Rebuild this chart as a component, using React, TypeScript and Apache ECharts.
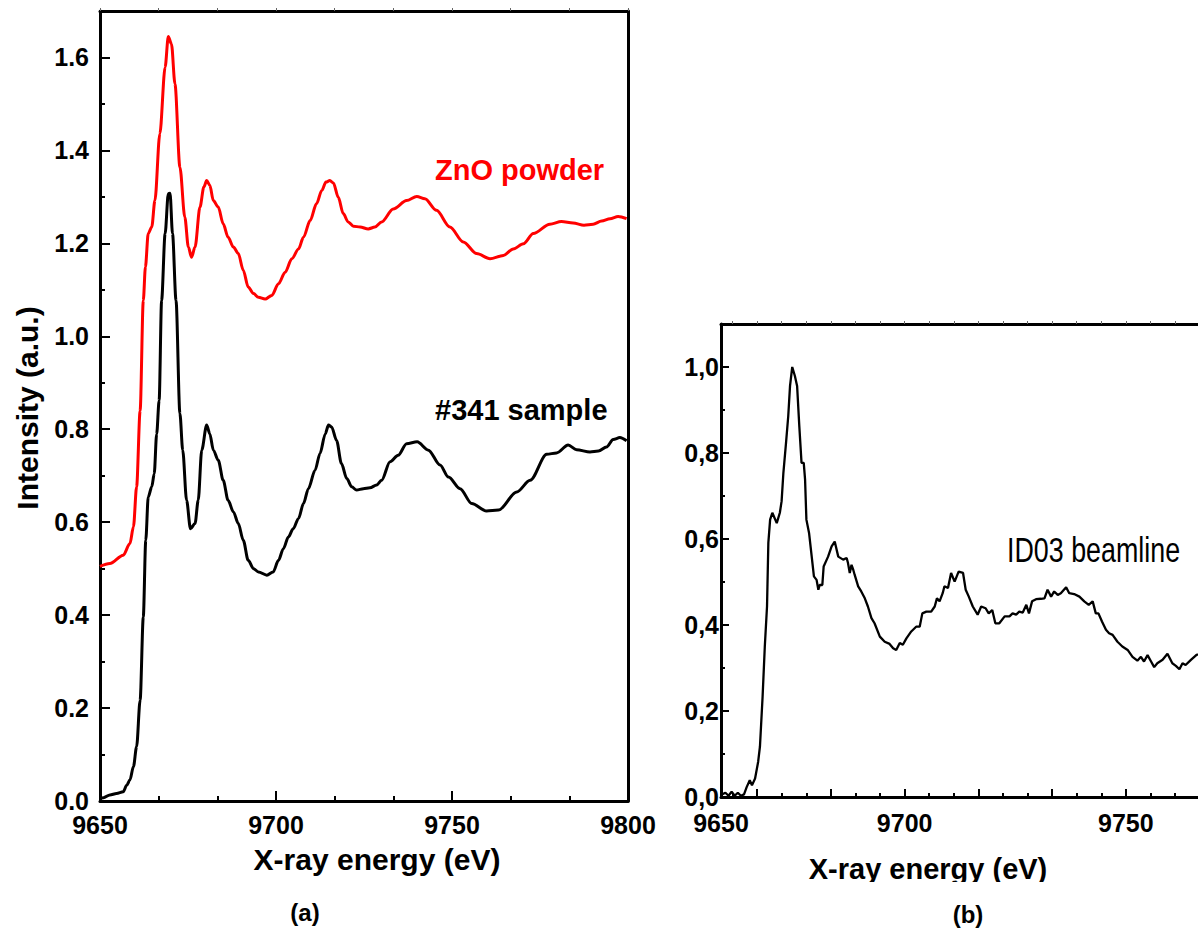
import React, { useEffect, useRef } from "react";
import * as echarts from "echarts";

// ---------- data ----------
const znoEnergy = [
  9650, 9652.8, 9656.6, 9658.5, 9659.5, 9660.4, 9661.4, 9662.3, 9662.9, 9663.7, 9664.7, 9665.6, 9667.0, 9668.5, 9669.4,
  9670.3, 9671.3, 9672.7, 9674.1, 9675.1, 9676.0, 9677.0, 9678.4, 9679.5, 9680.3, 9681.2, 9682.2, 9683.6, 9685.0, 9686.4,
  9687.9, 9689.3, 9690.7, 9692.1, 9693.6, 9695.0, 9696.9, 9698.8, 9700.7, 9702.6, 9704.5, 9706.4, 9707.8, 9709.7, 9711.5,
  9713.0, 9714.2, 9715.3, 9716.3, 9717.7, 9719.1, 9720.5, 9722.0, 9723.9, 9726.2, 9728.1, 9730.0, 9733.3, 9737.1, 9740.0,
  9742.3, 9745.6, 9749.4, 9753.2, 9757.0, 9760.8, 9764.6, 9767.4, 9770.3, 9773.1, 9777.8, 9781.1, 9784.4, 9787.5, 9790.1,
  9792.5, 9794.9, 9797.2, 9799.6,
];
const znoIntensity = [
  0.505, 0.511, 0.529, 0.554, 0.59, 0.676, 0.84, 1.077, 1.149, 1.221, 1.235, 1.292, 1.436, 1.579, 1.645,
  1.629, 1.543, 1.364, 1.256, 1.192, 1.17, 1.192, 1.278, 1.321, 1.335, 1.325, 1.292, 1.278, 1.242, 1.213,
  1.192, 1.178, 1.142, 1.106, 1.092, 1.084, 1.08, 1.088, 1.113, 1.138, 1.167, 1.188, 1.213, 1.249, 1.285,
  1.314, 1.332, 1.335, 1.33, 1.299, 1.264, 1.246, 1.237, 1.235, 1.231, 1.235, 1.246, 1.274, 1.292, 1.301,
  1.296, 1.271, 1.235, 1.203, 1.178, 1.167, 1.174, 1.188, 1.199, 1.221, 1.241, 1.247, 1.244, 1.239, 1.241,
  1.248, 1.253, 1.258, 1.253,
];

const sampleEnergy = [
  9650, 9651, 9652.8, 9654.7, 9656.6, 9657.6, 9658.5, 9659.5, 9660.4, 9661.4, 9662.3, 9663.0, 9663.7, 9664.7, 9665.4,
  9666.1, 9666.8, 9667.5, 9668.5, 9669.4, 9669.9, 9670.6, 9671.6, 9672.7, 9673.5, 9674.6, 9675.7, 9677.0, 9677.9, 9678.9,
  9680.3, 9681.2, 9682.2, 9683.6, 9685.0, 9686.4, 9687.9, 9689.3, 9690.7, 9692.1, 9693.6, 9695.0, 9697.4, 9699.2, 9700.7,
  9702.1, 9703.5, 9704.9, 9706.4, 9707.8, 9709.2, 9711.1, 9712.5, 9714.0, 9714.9, 9715.8, 9717.2, 9718.6, 9720.1, 9721.5,
  9722.9, 9724.8, 9726.7, 9728.6, 9730.0, 9732.4, 9734.7, 9737.1, 9740.1, 9743.3, 9746.6, 9749.0, 9752.3, 9755.6, 9759.8,
  9763.2, 9768.4, 9772.2, 9776.9, 9779.7, 9783.0, 9785.4, 9789.2, 9791.6, 9793.9, 9795.8, 9797.7, 9799.6,
];
const sampleIntensity = [
  0.006, 0.007, 0.013, 0.016, 0.02, 0.034, 0.045, 0.074, 0.117, 0.217, 0.396, 0.561, 0.654, 0.676, 0.704,
  0.79, 0.862, 1.077, 1.221, 1.307, 1.308, 1.221, 1.077, 0.834, 0.755, 0.647, 0.586, 0.597, 0.647, 0.755,
  0.809, 0.79, 0.755, 0.733, 0.69, 0.647, 0.622, 0.597, 0.561, 0.518, 0.5, 0.493, 0.486, 0.493, 0.518,
  0.543, 0.568, 0.586, 0.608, 0.64, 0.672, 0.712, 0.748, 0.79, 0.809, 0.805, 0.776, 0.726, 0.694, 0.676,
  0.669, 0.672, 0.674, 0.68, 0.69, 0.73, 0.744, 0.769, 0.773, 0.755, 0.723, 0.697, 0.672, 0.64, 0.624,
  0.626, 0.665, 0.69, 0.746, 0.749, 0.766, 0.756, 0.751, 0.753, 0.762, 0.778, 0.782, 0.775,
];

const id03Energy = [
  9658.5, 9659.5, 9660.2, 9660.9, 9661.6, 9662.3, 9663.0, 9663.7, 9664.3, 9665.0, 9665.5, 9666.2, 9666.9, 9667.3, 9667.9,
  9668.4, 9668.9, 9669.2, 9669.6, 9670.1, 9671.1, 9671.8, 9672.2, 9672.6, 9673.2, 9673.7, 9674.1, 9674.6, 9675.2, 9675.7,
  9676.2, 9676.7, 9677.2, 9677.5, 9677.8, 9678.4, 9679.0, 9679.5, 9680.1, 9680.5, 9680.8, 9681.4, 9681.7, 9682.7, 9683.5,
  9684.2, 9685.0, 9686.1, 9686.9, 9687.2, 9687.6, 9688.0, 9688.4, 9688.7, 9689.5, 9690.2, 9691.0, 9691.7, 9692.5, 9693.2,
  9694.4, 9695.5, 9696.6, 9697.4, 9698.1, 9698.9, 9699.6, 9700.4, 9701.5, 9702.6, 9703.4, 9704.0, 9704.9, 9706.0, 9706.8,
  9707.3, 9707.9, 9708.6, 9709.0, 9709.8, 9710.5, 9711.3, 9712.2, 9713.2, 9713.8, 9714.5, 9715.4, 9716.5, 9717.3, 9718.3,
  9719.0, 9719.8, 9720.5, 9721.4, 9722.6, 9723.7, 9724.4, 9725.2, 9725.9, 9726.7, 9727.5, 9728.1, 9728.8, 9729.7, 9730.8,
  9731.6, 9732.3, 9733.1, 9733.8, 9734.6, 9735.3, 9736.5, 9737.2, 9738.3, 9739.5, 9740.6, 9741.6, 9742.5, 9743.2, 9743.8,
  9744.6, 9745.5, 9746.2, 9747.0, 9748.1, 9749.2, 9750.4, 9751.5, 9752.6, 9753.4, 9754.1, 9754.9, 9755.6, 9756.4, 9757.1,
  9758.3, 9759.4, 9760.5, 9761.3, 9762.1, 9762.8, 9763.5, 9764.7, 9765.9, 9766.3,
];
const id03Intensity = [
  0.005, 0.01, 0.003, 0.012, 0.003, 0.01, 0.003, 0.006, 0.023, 0.039, 0.027, 0.043, 0.082, 0.117, 0.233,
  0.35, 0.443, 0.591, 0.645, 0.661, 0.637, 0.661, 0.688, 0.754, 0.824, 0.886, 0.956, 1.0, 0.979, 0.956,
  0.862, 0.777, 0.777, 0.738, 0.645, 0.614, 0.559, 0.513, 0.505, 0.482, 0.493, 0.493, 0.536, 0.559, 0.583,
  0.594, 0.559, 0.552, 0.556, 0.544, 0.521, 0.54, 0.528, 0.517, 0.49, 0.478, 0.462, 0.443, 0.416, 0.404,
  0.373, 0.361, 0.356, 0.346, 0.342, 0.358, 0.354, 0.369, 0.385, 0.396, 0.396, 0.427, 0.431, 0.431, 0.443,
  0.462, 0.455, 0.474, 0.49, 0.486, 0.521, 0.501, 0.524, 0.521, 0.482, 0.466, 0.443, 0.424, 0.443, 0.439,
  0.427, 0.435, 0.404, 0.404, 0.42, 0.42, 0.427, 0.424, 0.431, 0.429, 0.447, 0.427, 0.455, 0.46, 0.461,
  0.462, 0.482, 0.466, 0.478, 0.47, 0.474, 0.488, 0.474, 0.472, 0.466, 0.455, 0.447, 0.455, 0.427, 0.427,
  0.408, 0.389, 0.381, 0.377, 0.361, 0.35, 0.342, 0.326, 0.317, 0.326, 0.315, 0.33, 0.317, 0.302, 0.311,
  0.319, 0.333, 0.311, 0.305, 0.297, 0.311, 0.307, 0.319, 0.33, 0.332,
];

// ---------- ticks / labels ----------
const leftYTickValues = [0, 0.2, 0.4, 0.6, 0.8, 1.0, 1.2, 1.4, 1.6];
const leftYTickLabels = ["0.0", "0.2", "0.4", "0.6", "0.8", "1.0", "1.2", "1.4", "1.6"];
const leftYMinorValues = [0.1, 0.3, 0.5, 0.7, 0.9, 1.1, 1.3, 1.5];
const leftXTickLabels = ["9650", "9700", "9750", "9800"];

const rightYTickValues = [0, 0.2, 0.4, 0.6, 0.8, 1.0];
const rightYTickLabels = ["0,0", "0,2", "0,4", "0,6", "0,8", "1,0"];
const rightYMinorValues = [0.1, 0.3, 0.5, 0.7, 0.9];
const rightXMin = 9658.5;
const rightXMax = 9766.3;
const rightXLabelValues = [rightXMin, 9700, 9750];
const rightXTickLabels = ["9650", "9700", "9750"];
const rightXMajorStep = 50 / 3;

const FONT = '"Liberation Sans", Arial, Helvetica, sans-serif';

function labelFor(values: number[], labels: string[]) {
  return (v: number) => {
    const i = values.findIndex((t) => Math.abs(t - v) < 1e-6);
    return i >= 0 ? labels[i] : "";
  };
}

function zip(xs: number[], ys: number[]) {
  return xs.map((x, i) => [x, ys[i]]);
}

export default function App() {
  const ref = useRef<HTMLDivElement>(null);

  useEffect(() => {
    if (!ref.current) return;
    const chart = echarts.init(ref.current, undefined, { renderer: "svg" });

    // right panel tick positions derived from the axis step
    const rightMajor: number[] = [];
    const rightMinor: number[] = [];
    const rightAll: number[] = [];
    for (let k = -6; k <= 12; k++) {
      const v = 9700 + k * rightXMajorStep;
      for (let j = 0; j < 3; j++) {
        const w = v + (j * rightXMajorStep) / 3;
        if (w < rightXMin + 0.01 || w > rightXMax - 0.01) continue;
        rightAll.push(w);
        if (j === 0) rightMajor.push(w);
        else rightMinor.push(w);
      }
    }

    const axisLineStyle = { show: true, onZero: false, lineStyle: { color: "#000", width: 3 } };
    const noLine = { show: false, onZero: false };
    const tickLabelStyle = { color: "#000", fontFamily: FONT, fontWeight: "bold" as const, fontSize: 25 };
    const tickStyle = { color: "#000", width: 2 };

    const option: any = {
      animation: false,
      backgroundColor: "#fff",
      grid: [
        { left: 100, top: 11, width: 528, height: 790 },
        { left: 721, top: 324, width: 478, height: 473 },
      ],
      xAxis: [
        {
          gridIndex: 0, type: "value", position: "bottom", min: 9650, max: 9800, interval: 50,
          axisLine: axisLineStyle,
          axisTick: { show: true, inside: true, length: 10, lineStyle: tickStyle },
          minorTick: { show: true, splitNumber: 3, length: 5, lineStyle: tickStyle },
          axisLabel: { ...tickLabelStyle, margin: 11, formatter: (v: number) => leftXTickLabels[Math.round((v - 9650) / 50)] ?? "" },
          splitLine: { show: false },
        },
        {
          gridIndex: 0, type: "value", position: "top", min: 9650, max: 9800, interval: 50 / 3,
          axisLine: axisLineStyle,
          axisTick: { show: true, inside: false, length: 3, lineStyle: { color: "#666", width: 1 } },
          axisLabel: { show: false },
          splitLine: { show: false },
        },
        {
          gridIndex: 1, type: "value", position: "bottom", min: rightXMin, max: rightXMax,
          axisLine: axisLineStyle,
          axisTick: { show: true, inside: true, length: 8, customValues: rightMajor, lineStyle: tickStyle },
          axisLabel: { ...tickLabelStyle, margin: 13, customValues: rightXLabelValues, formatter: labelFor(rightXLabelValues, rightXTickLabels) },
          splitLine: { show: false },
        },
        {
          gridIndex: 1, type: "value", position: "bottom", min: rightXMin, max: rightXMax,
          axisLine: noLine,
          axisTick: { show: true, inside: true, length: 4, customValues: rightMinor, lineStyle: tickStyle },
          axisLabel: { show: false },
          splitLine: { show: false },
        },
        {
          gridIndex: 1, type: "value", position: "top", min: rightXMin, max: rightXMax,
          axisLine: axisLineStyle,
          axisTick: { show: true, inside: false, length: 3, customValues: rightAll, lineStyle: { color: "#666", width: 1 } },
          axisLabel: { show: false },
          splitLine: { show: false },
        },
      ],
      yAxis: [
        {
          gridIndex: 0, type: "value", position: "left", min: 0, max: 1.7,
          axisLine: axisLineStyle,
          axisTick: { show: true, inside: true, length: 10, customValues: leftYTickValues, lineStyle: tickStyle },
          axisLabel: { ...tickLabelStyle, margin: 11, customValues: leftYTickValues, formatter: labelFor(leftYTickValues, leftYTickLabels) },
          splitLine: { show: false },
        },
        {
          gridIndex: 0, type: "value", position: "left", min: 0, max: 1.7,
          axisLine: noLine,
          axisTick: { show: true, inside: true, length: 5, customValues: leftYMinorValues, lineStyle: tickStyle },
          axisLabel: { show: false },
          splitLine: { show: false },
        },
        {
          gridIndex: 0, type: "value", position: "right", min: 0, max: 1.7,
          axisLine: axisLineStyle,
          axisTick: { show: false },
          axisLabel: { show: false },
          splitLine: { show: false },
        },
        {
          gridIndex: 1, type: "value", position: "left", min: 0, max: 1.1,
          axisLine: axisLineStyle,
          axisTick: { show: true, inside: true, length: 8, customValues: rightYTickValues, lineStyle: tickStyle },
          axisLabel: { ...tickLabelStyle, margin: 2, customValues: rightYTickValues, formatter: labelFor(rightYTickValues, rightYTickLabels) },
          splitLine: { show: false },
        },
        {
          gridIndex: 1, type: "value", position: "left", min: 0, max: 1.1,
          axisLine: noLine,
          axisTick: { show: true, inside: true, length: 4, customValues: rightYMinorValues, lineStyle: tickStyle },
          axisLabel: { show: false },
          splitLine: { show: false },
        },
      ],
      series: [
        {
          name: "ZnO powder", type: "line", xAxisIndex: 0, yAxisIndex: 0,
          data: zip(znoEnergy, znoIntensity), showSymbol: false, smooth: 0.3, smoothMonotone: "x",
          lineStyle: { color: "#ff0000", width: 3 }, itemStyle: { color: "#ff0000" },
        },
        {
          name: "#341 sample", type: "line", xAxisIndex: 0, yAxisIndex: 0,
          data: zip(sampleEnergy, sampleIntensity), showSymbol: false, smooth: 0.3, smoothMonotone: "x",
          lineStyle: { color: "#000", width: 3 }, itemStyle: { color: "#000" },
        },
        {
          name: "ID03 beamline", type: "line", xAxisIndex: 2, yAxisIndex: 3,
          data: zip(id03Energy, id03Intensity), showSymbol: false,
          lineStyle: { color: "#000", width: 2.3 }, itemStyle: { color: "#000" },
        },
      ],
      graphic: [
        {
          type: "text", x: 27, y: 408, rotation: Math.PI / 2, z: 10,
          style: { text: "Intensity (a.u.)", font: `bold 30px ${FONT}`, fill: "#000", align: "center", verticalAlign: "middle", textAlign: "center", textVerticalAlign: "middle" },
        },
        {
          type: "text", x: 377, y: 859, z: 10,
          style: { text: "X-ray energy (eV)", font: `bold 30px ${FONT}`, fill: "#000", align: "center", verticalAlign: "middle", textAlign: "center", textVerticalAlign: "middle" },
        },
        {
          type: "text", x: 305, y: 912, z: 10,
          style: { text: "(a)", font: `bold 24px ${FONT}`, fill: "#000", align: "center", verticalAlign: "middle", textAlign: "center", textVerticalAlign: "middle" },
        },
        {
          type: "text", x: 435, y: 170, z: 10,
          style: { text: "ZnO powder", font: `bold 29px ${FONT}`, fill: "#ff0000", align: "left", verticalAlign: "middle", textAlign: "left", textVerticalAlign: "middle" },
        },
        {
          type: "text", x: 435, y: 410, z: 10,
          style: { text: "#341 sample", font: `bold 29px ${FONT}`, fill: "#000", align: "left", verticalAlign: "middle", textAlign: "left", textVerticalAlign: "middle" },
        },
        {
          type: "text", x: 1007, y: 550, scaleX: 0.767, z: 10,
          style: { text: "ID03 beamline", font: `35px ${FONT}`, fill: "#000", align: "left", verticalAlign: "middle", textAlign: "left", textVerticalAlign: "middle" },
        },
        {
          type: "text", x: 928, y: 869, z: 10,
          style: { text: "X-ray energy (eV)", font: `bold 29px ${FONT}`, fill: "#000", align: "center", verticalAlign: "middle", textAlign: "center", textVerticalAlign: "middle" },
        },
        {
          type: "rect", z: 20, shape: { x: 780, y: 882, width: 300, height: 18 }, style: { fill: "#fff" },
        },
        {
          type: "text", x: 968, y: 914, z: 10,
          style: { text: "(b)", font: `bold 24px ${FONT}`, fill: "#000", align: "center", verticalAlign: "middle", textAlign: "center", textVerticalAlign: "middle" },
        },
      ],
    };

    chart.setOption(option);
    return () => chart.dispose();
  }, []);

  return (
    <div
      ref={ref}
      style={{ position: "fixed", left: 0, top: 0, width: 1198, height: 931, background: "#fff" }}
    />
  );
}
